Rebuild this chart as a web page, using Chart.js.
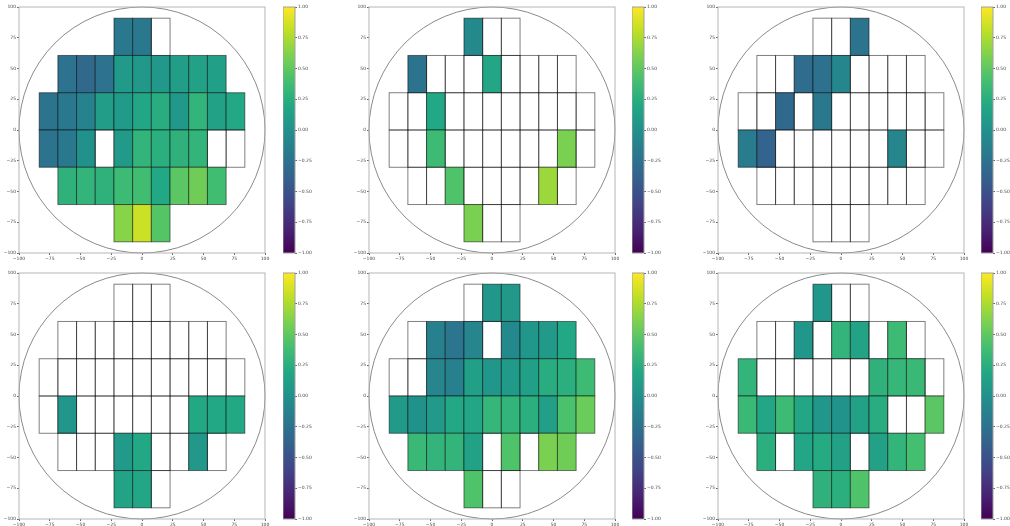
<!DOCTYPE html>
<html>
<head>
<meta charset="utf-8">
<script src="https://cdn.jsdelivr.net/npm/chart.js@4.4.0/dist/chart.umd.min.js"></script>
<style>
  body { margin: 0; background: #fff; width: 1010px; height: 526px; overflow: hidden; position: relative; }
  canvas { position: absolute; }
</style>
</head>
<body>
<script>
// die layout: rows from top to bottom, number of dies in each row
const rowCounts = [3, 9, 11, 11, 9, 3];
const rowTops = [90.9, 60.6, 30.3, 0, -30.3, -60.6];
const dieW = 15.2;
const dieH = 30.3;
const waferRadius = 100;

const axisTicks = [-100, -75, -50, -25, 0, 25, 50, 75, 100];
const cbTicks = [-1, -0.75, -0.5, -0.25, 0, 0.25, 0.5, 0.75, 1];

// values per die (null = no value)
const _ = null;
const wafer1 = [
    [-0.2, -0.2, _],
    [-0.25, -0.32, -0.25, 0.08, 0.06, 0.06, 0.1, 0.14, 0.12],
    [-0.24, -0.2, -0.12, 0.1, 0.08, 0.18, 0.24, 0.06, 0.3, 0.14, 0.2],
    [-0.24, -0.2, 0.0, _, 0.08, 0.3, 0.26, 0.28, 0.3, _, _],
    [0.28, 0.3, 0.28, 0.36, 0.38, 0.2, 0.48, 0.56, 0.38],
    [0.64, 0.84, 0.46]
];
const wafer2 = [
    [-0.06, _, _],
    [-0.24, _, _, _, 0.18, _, _, _, _],
    [_, _, 0.2, _, _, _, _, _, _, _, _],
    [_, _, 0.36, _, _, _, _, _, _, 0.6, _],
    [_, _, 0.44, _, _, _, _, 0.7, _],
    [0.6, _, _]
];
const wafer3 = [
    [_, _, -0.24],
    [_, _, -0.3, -0.26, -0.08, _, _, _, _],
    [_, _, -0.32, _, -0.2, _, _, _, _, _, _],
    [-0.18, -0.36, _, _, _, _, _, _, -0.1, _, _],
    [_, _, _, _, _, _, _, _, _],
    [_, _, _]
];
const wafer4 = [
    [_, _, _],
    [_, _, _, _, _, _, _, _, _],
    [_, _, _, _, _, _, _, _, _, _, _],
    [_, 0.04, _, _, _, _, _, _, 0.2, 0.2, 0.2],
    [_, _, _, 0.08, 0.2, _, _, 0.06, _],
    [0.16, 0.18, _]
];
const wafer5 = [
    [_, 0.04, 0.06],
    [_, -0.14, -0.22, -0.1, _, -0.06, 0.04, 0.08, 0.2],
    [_, _, -0.1, -0.14, 0.12, 0.04, 0.08, 0.12, 0.24, 0.26, 0.36],
    [0.08, 0.0, 0.08, 0.2, 0.18, 0.32, 0.3, 0.26, 0.12, 0.42, 0.54],
    [0.34, 0.3, 0.3, 0.14, _, 0.44, _, 0.6, 0.56],
    [0.44, _, _]
];
const wafer6 = [
    [0.04, _, _],
    [_, _, 0.04, _, 0.3, 0.16, _, 0.36, _],
    [0.3, _, _, _, _, _, _, 0.28, 0.32, 0.34, _],
    [0.34, 0.18, 0.36, 0.18, 0.04, 0.02, 0.14, 0.24, _, _, 0.48],
    [0.26, _, 0.18, 0.22, 0.14, _, 0.14, 0.3, 0.4],
    [0.28, 0.26, 0.44]
];
const wafers = [wafer1, wafer2, wafer3, wafer4, wafer5, wafer6];

// viridis colormap stops
const viridisStops = ['#440154', '#482475', '#414487', '#355f8d', '#2a788e', '#21918c',
                      '#22a884', '#44bf70', '#7ad151', '#bddf26', '#fde725'];

function hexToRgb(h) {
    return [parseInt(h.slice(1, 3), 16), parseInt(h.slice(3, 5), 16), parseInt(h.slice(5, 7), 16)];
}
function viridis(t) {
    t = Math.min(1, Math.max(0, t));
    const n = viridisStops.length - 1;
    const i = Math.min(n - 1, Math.floor(t * n));
    const f = t * n - i;
    const a = hexToRgb(viridisStops[i]), b = hexToRgb(viridisStops[i + 1]);
    const c = a.map((v, k) => Math.round(v + (b[k] - v) * f));
    return `rgb(${c[0]},${c[1]},${c[2]})`;
}

const minus = s => s.replace('-', '\u2212');
const tickFont = { family: "'DejaVu Sans', sans-serif", size: 4.5 };

const waferPlugin = {
    id: 'wafer',
    beforeDatasetsDraw(chart, args, opts) {
        const { ctx, chartArea: a, scales: { x, y } } = chart;
        const vals = opts.values;
        ctx.save();
        // wafer outline
        ctx.beginPath();
        ctx.arc(x.getPixelForValue(0), y.getPixelForValue(0),
                x.getPixelForValue(waferRadius) - x.getPixelForValue(0), 0, Math.PI * 2);
        ctx.strokeStyle = '#8a8a8a';
        ctx.lineWidth = 1;
        ctx.stroke();
        // dies
        rowCounts.forEach((n, r) => {
            const start = -n * dieW / 2;
            for (let c = 0; c < n; c++) {
                const px0 = x.getPixelForValue(start + c * dieW);
                const px1 = x.getPixelForValue(start + (c + 1) * dieW);
                const py0 = y.getPixelForValue(rowTops[r]);
                const py1 = y.getPixelForValue(rowTops[r] - dieH);
                const v = vals[r][c];
                if (v !== null) {
                    ctx.fillStyle = viridis((v + 1) / 2);
                    ctx.fillRect(px0, py0, px1 - px0, py1 - py0);
                }
                ctx.strokeStyle = 'rgba(0,0,0,0.5)';
                ctx.lineWidth = 1;
                ctx.strokeRect(px0, py0, px1 - px0, py1 - py0);
            }
        });
        // frame
        ctx.strokeStyle = '#b5b5b5';
        ctx.strokeRect(a.left, a.top, a.width, a.height);
        ctx.restore();
    }
};

const colorbarPlugin = {
    id: 'colorbar',
    beforeDatasetsDraw(chart) {
        const { ctx, chartArea: a } = chart;
        const g = ctx.createLinearGradient(0, a.bottom, 0, a.top);
        viridisStops.forEach((c, i) => g.addColorStop(i / (viridisStops.length - 1), c));
        ctx.save();
        ctx.fillStyle = g;
        ctx.fillRect(a.left, a.top, a.width, a.height);
        ctx.strokeStyle = '#a0a0a0';
        ctx.lineWidth = 1;
        ctx.strokeRect(a.left, a.top, a.width, a.height);
        ctx.restore();
    }
};

const plotLefts = [19, 369, 718];
const cbLefts = [283, 632, 981];
const plotTops = [7, 273];
const plotSize = 246;
const cbWidth = 12;

function addCanvas(left, top, w, h) {
    const cv = document.createElement('canvas');
    cv.width = w; cv.height = h;
    cv.style.left = left + 'px'; cv.style.top = top + 'px';
    cv.style.width = w + 'px'; cv.style.height = h + 'px';
    document.body.appendChild(cv);
    return cv.getContext('2d');
}

function tickScale(ticks, opts) {
    return Object.assign({
        type: 'linear',
        min: ticks[0],
        max: ticks[ticks.length - 1],
        afterBuildTicks: s => { s.ticks = ticks.map(v => ({ value: v })); },
        grid: { drawOnChartArea: false, drawTicks: true, tickLength: 2, color: '#666' },
        border: { display: false },
        ticks: { font: tickFont, color: '#444', padding: 1, maxRotation: 0, autoSkip: false }
    }, opts);
}

wafers.forEach((vals, i) => {
    const col = i % 3, row = Math.floor(i / 3);
    const left = plotLefts[col], top = plotTops[row];

    // wafer map
    const ctx = addCanvas(left - 20, top - 4, plotSize + 28, plotSize + 16);
    new Chart(ctx, {
        type: 'scatter',
        data: { datasets: [{ data: [] }] },
        options: {
            responsive: false,
            animation: false,
            devicePixelRatio: 1,
            layout: { padding: { top: 4, right: 8, left: 0, bottom: 0 } },
            plugins: { legend: { display: false }, tooltip: { enabled: false }, wafer: { values: vals } },
            scales: {
                x: tickScale(axisTicks, {
                    position: 'bottom',
                    afterFit: s => { s.height = 12; },
                    ticks: { font: tickFont, color: '#444', padding: 1, maxRotation: 0, autoSkip: false,
                             callback: v => minus(String(v)) }
                }),
                y: tickScale(axisTicks, {
                    position: 'left',
                    afterFit: s => { s.width = 20; },
                    ticks: { font: tickFont, color: '#444', padding: 1, autoSkip: false,
                             callback: v => minus(String(v)) }
                })
            }
        },
        plugins: [waferPlugin]
    });

    // colorbar
    const cctx = addCanvas(cbLefts[col], top - 4, cbWidth + 20, plotSize + 8);
    new Chart(cctx, {
        type: 'scatter',
        data: { datasets: [{ data: [] }] },
        options: {
            responsive: false,
            animation: false,
            devicePixelRatio: 1,
            layout: { padding: { top: 4, bottom: 4, left: 0, right: 0 } },
            plugins: { legend: { display: false }, tooltip: { enabled: false } },
            scales: {
                x: { type: 'linear', display: false, min: 0, max: 1 },
                y: tickScale(cbTicks, {
                    position: 'right',
                    afterFit: s => { s.width = 20; },
                    ticks: { font: tickFont, color: '#444', padding: 1, autoSkip: false,
                             callback: v => minus(v.toFixed(2)) }
                })
            }
        },
        plugins: [colorbarPlugin]
    });
});
</script>
</body>
</html>
